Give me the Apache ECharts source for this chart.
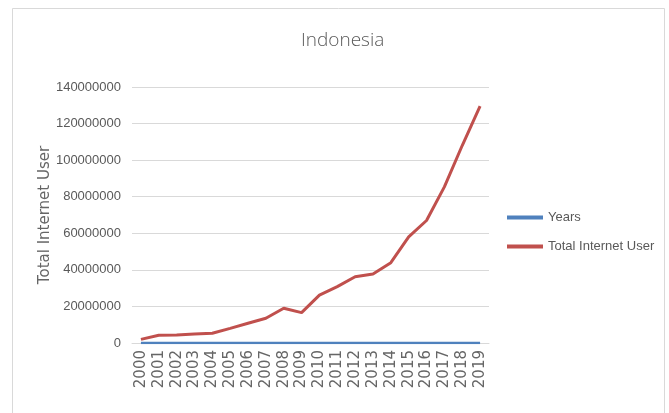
<!DOCTYPE html>
<html>
<head>
<meta charset="utf-8">
<script src="https://cdn.jsdelivr.net/npm/echarts@6/dist/echarts.min.js"></script>
<style>html,body{margin:0;padding:0;background:#fff;}#c{width:669px;height:413px;}</style>
</head>
<body>
<div id="c"></div>
<script>
const categories = ['2000','2001','2002','2003','2004','2005','2006','2007','2008','2009','2010','2011','2012','2013','2014','2015','2016','2017','2018','2019'];
const yearsValues = [2000,2001,2002,2003,2004,2005,2006,2007,2008,2009,2010,2011,2012,2013,2014,2015,2016,2017,2018,2019];
const internetUsers = [2000000,4200000,4400000,4900000,5300000,8000000,10800000,13500000,19000000,16600000,26200000,30800000,36200000,37700000,43900000,58000000,67000000,85400000,108000000,129500000];
const yTicks = {min: 0, max: 140000000, interval: 20000000};
const seriesNames = ['Years', 'Total Internet User'];
const titleText = 'Indonesia';
const yAxisTitle = 'Total Internet User';

const chart = echarts.init(document.getElementById('c'), null, {renderer: 'canvas'});
const txt = '#595959';
chart.setOption({
  animation: false,
  backgroundColor: '#fff',
  graphic: [{
    type: 'rect', left: 10, top: 6, shape: {width: 652, height: 420},
    style: {fill: 'none', stroke: '#d9d9d9', lineWidth: 1}, silent: true, z: -1
  }],
  title: {
    text: titleText, left: 296, top: 26,
    textStyle: {fontFamily: 'Open Sans', fontWeight: 300, fontSize: 19, color: txt}
  },
  legend: {
    orient: 'vertical', left: 502, top: 206, itemGap: 16,
    itemWidth: 36, itemHeight: 4, icon: 'rect',
    textStyle: {fontFamily: 'Liberation Sans', fontSize: 13, color: txt},
    data: seriesNames
  },
  grid: {left: 132, right: 180, top: 87, bottom: 70, containLabel: false},
  xAxis: {
    type: 'category', data: categories, boundaryGap: true,
    axisLine: {show: true, lineStyle: {color: '#d9d9d9', width: 1}},
    axisTick: {show: false},
    axisLabel: {rotate: 90, margin: 7, fontFamily: 'DejaVu Sans', fontSize: 15, color: '#666', interval: 0}
  },
  yAxis: {
    type: 'value', min: yTicks.min, max: yTicks.max, interval: yTicks.interval,
    name: yAxisTitle, nameLocation: 'middle', nameGap: 79, nameRotate: 90, nameMoveOverlap: false,
    nameTextStyle: {fontFamily: 'DejaVu Sans', fontSize: 15, color: '#666'},
    axisLine: {show: false}, axisTick: {show: false},
    splitLine: {lineStyle: {color: '#d9d9d9', width: 1}},
    axisLabel: {margin: 11, fontFamily: 'Liberation Sans', fontSize: 13, color: txt, formatter: v => String(v)}
  },
  series: [
    {name: seriesNames[0], type: 'line', data: yearsValues, showSymbol: false, symbol: 'none',
     lineStyle: {color: '#4F81BD', width: 2.5}, itemStyle: {color: '#4F81BD'}},
    {name: seriesNames[1], type: 'line', data: internetUsers, showSymbol: false, symbol: 'none',
     lineStyle: {color: '#C0504D', width: 3}, itemStyle: {color: '#C0504D'}}
  ]
});
</script>
</body>
</html>
